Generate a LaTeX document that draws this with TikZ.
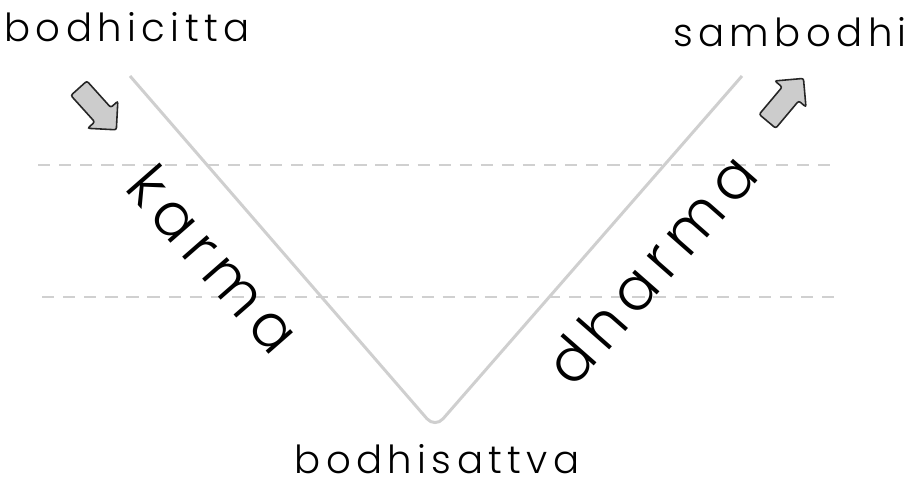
\documentclass[tikz,border=0pt]{standalone}
\usepackage{fontspec}
\setmainfont{Poppins}[UprightFont=* Light, LetterSpace=14]
\usepackage{xcolor}
\usetikzlibrary{arrows.meta,positioning,shapes.arrows,calc}

\definecolor{vgray}{HTML}{CFCFCF}
\definecolor{dgray}{HTML}{D0D0D0}
\definecolor{agray}{HTML}{CCCCCC}

\begin{document}
\begin{tikzpicture}[
    x=0.02cm, y=-0.02cm,
    vline/.style={draw=vgray, line width=1.7pt, rounded corners=7pt},
    guide/.style={draw=dgray, line width=1.1pt, dash pattern=on 7pt off 5pt},
    stage/.style={font=\fontsize{22}{26}\selectfont, inner sep=0pt},
    path/.style={font=\fontsize{34}{40}\selectfont, inner sep=0pt},
    bigarrow/.style={single arrow, draw=black!85, fill=agray, line width=0.9pt,
                     rounded corners=1.2pt, minimum height=1.12cm, inner sep=0.2cm,
                     single arrow head extend=0.19cm},
  ]
    \useasboundingbox (0,0) rectangle (907,479);

    % --- guide lines ---
    \coordinate (g1l) at (38,165);
    \coordinate (g1r) at (838,165);
    \coordinate (g2l) at (42,297);
    \coordinate (g2r) at (835,297);
    \draw[guide] (g1l) -- (g1r);
    \draw[guide] (g2l) -- (g2r);

    % --- the V ---
    \coordinate (top l) at (130,76);
    \coordinate (bottom) at (435,428);
    \coordinate (top r) at (742,76);
    \draw[vline] (top l) -- (bottom) -- (top r);

    % --- stages ---
    \node[stage] (start) at (127,27) {bodhicitta};
    \node[stage] (goal) at (790,32) {sambodhi};
    \node[stage] (mid) at (437,459) {bodhisattva};

    % --- paths along the V ---
    \node[path, rotate=-48.8] (karma) at (214,259) {karma};
    \node[path, rotate=48.7] (dharma) at (651,269) {dharma};

    % --- in and out ---
    \node[bigarrow, rotate=-48] (in) at (94,105) {};
    \node[bigarrow, rotate=50] (out) at (782,104) {};
  \end{tikzpicture}
\end{document}
